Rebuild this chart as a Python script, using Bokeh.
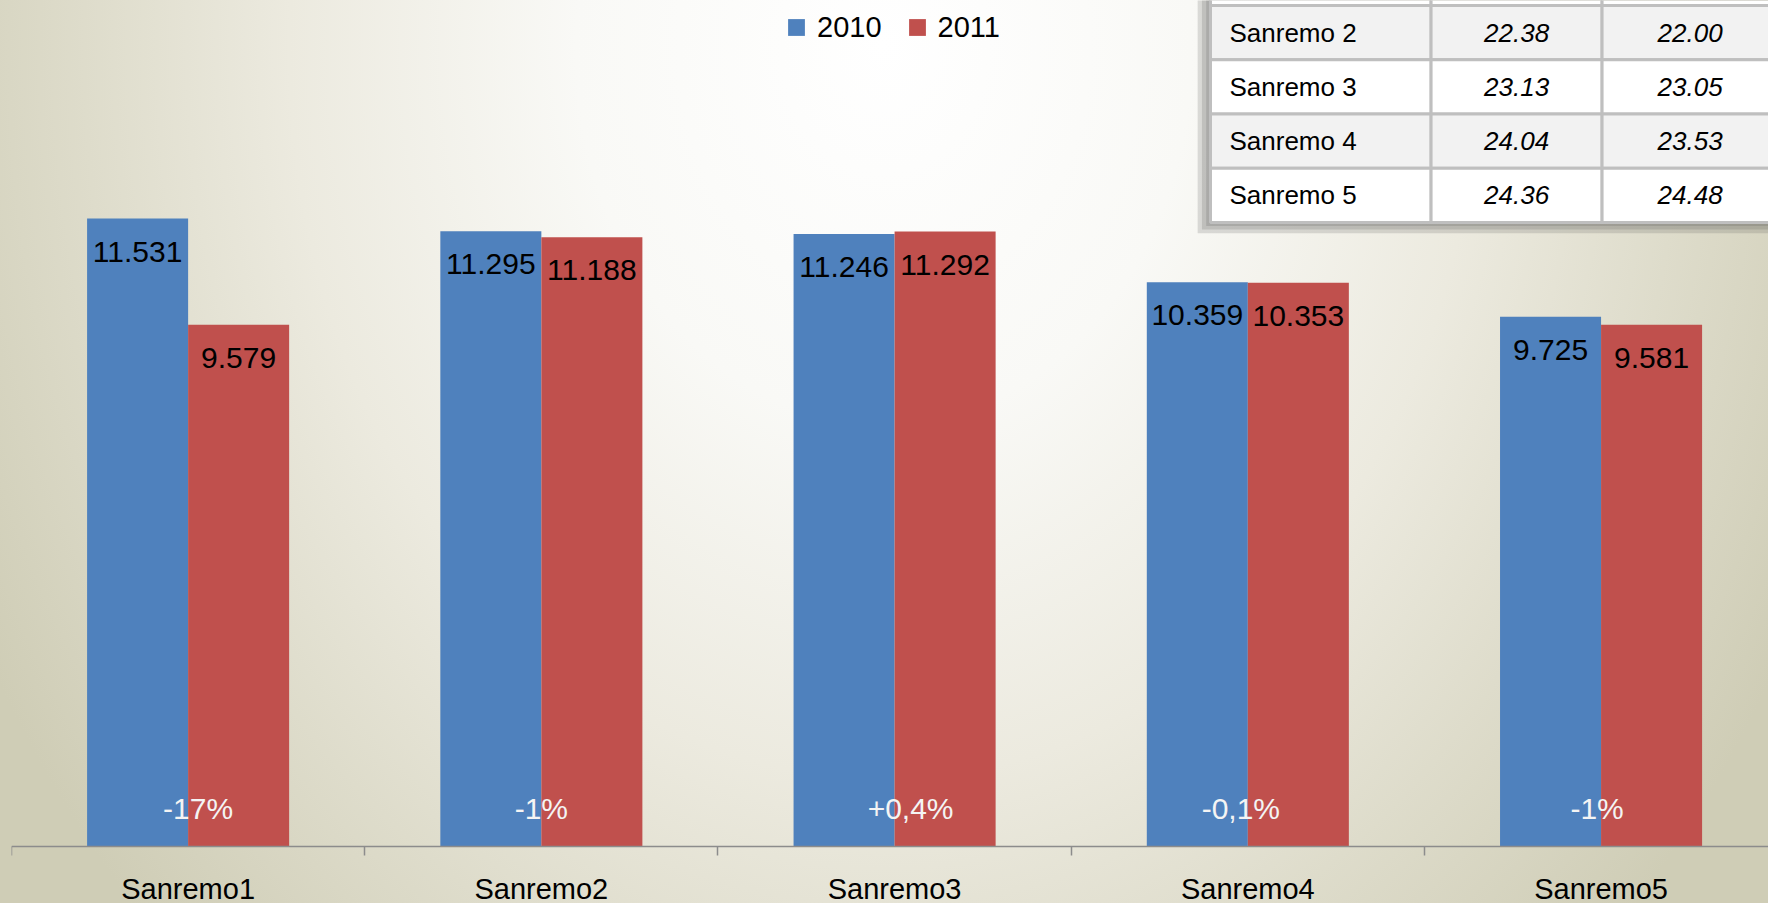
from bokeh.plotting import figure
from bokeh.models import (Range1d, LinearAxis, FixedTicker, Legend, LegendItem,
                          ColumnDataSource)
from bokeh.core.properties import value
from bokeh.transform import dodge
from bokeh.embed import file_html
from bokeh.resources import INLINE

# ---------------- data ----------------
categories = ["Sanremo1", "Sanremo2", "Sanremo3", "Sanremo4", "Sanremo5"]
values_2010 = [11.531, 11.295, 11.246, 10.359, 9.725]
values_2011 = [9.579, 11.188, 11.292, 10.353, 9.581]
labels_2010 = ["11.531", "11.295", "11.246", "10.359", "9.725"]
labels_2011 = ["9.579", "11.188", "11.292", "10.353", "9.581"]
changes = ["-17%", "-1%", "+0,4%", "-0,1%", "-1%"]
series_names = ["2010", "2011"]

table_rows = ["Sanremo 2", "Sanremo 3", " Sanremo 4", "Sanremo  5"]
table_2010 = ["22.38", "23.13", "24.04", "24.36"]
table_2011 = ["22.00", "23.05", "23.53", "24.48"]

# ---------------- styles ----------------
BLUE = "#4f81bd"
RED = "#c0504d"
FONT = value("Liberation Sans")
W, H = 1768, 903
change_nudge_px = [10, 0, 16, -7, -4]   # hand-placed text boxes in the original

xc = [i + 0.5 for i in range(len(categories))]
src = ColumnDataSource(dict(x=xc, v10=values_2010, v11=values_2011,
                            l10=labels_2010, l11=labels_2011, ch=changes,
                            zero=[0] * len(categories), nx=change_nudge_px))

p = figure(width=W, height=H, output_backend="svg", toolbar_location=None,
           x_range=Range1d(0, 4.974), y_range=Range1d(-1.0466, 15.534),
           x_axis_location=None, y_axis_location=None,
           min_border_left=11, min_border_right=0, min_border_top=0, min_border_bottom=0,
           background_fill_color=None, border_fill_color=None, outline_line_color=None,
           styles={"background": "radial-gradient(ellipse 58% 140% at 50% 5%, #ffffff 0%, "
                                 "#f9f9f6 30%, #eceadf 58%, #dedccb 78%, #cfcdb6 100%)"})
p.grid.visible = False

# bars
off = 0.143
bw = 0.286
p.vbar(x=dodge("x", -off, range=p.x_range), top="v10", width=bw, source=src,
       fill_color=BLUE, line_color=None)
p.vbar(x=dodge("x", off, range=p.x_range), top="v11", width=bw, source=src,
       fill_color=RED, line_color=None)

# value labels
for col, lab, d in (("v10", "l10", -off), ("v11", "l11", off)):
    p.text(x=dodge("x", d, range=p.x_range), y=col, text=lab, source=src,
           text_align="center", text_baseline="alphabetic", y_offset=33,
           text_font=FONT, text_font_size="30px", text_color="#000000")

# change labels
p.text(x="x", y="zero", text="ch", source=src, text_align="center",
       text_baseline="alphabetic", x_offset="nx", y_offset=-38, text_font=FONT,
       text_font_size="30px", text_color="#f4f4f4")

# category axis
ax = LinearAxis(fixed_location=0,
                ticker=FixedTicker(ticks=xc, minor_ticks=list(range(len(categories) + 1))),
                major_label_overrides={x: c for x, c in zip(xc, categories)})
ax.axis_line_color = "#8c8c8c"
ax.axis_line_width = 1.5
ax.major_tick_out = 0
ax.major_tick_in = 0
ax.major_tick_line_color = None
ax.minor_tick_out = 9
ax.minor_tick_in = 0
ax.minor_tick_line_color = "#8c8c8c"
ax.minor_tick_line_width = 1.5
ax.major_label_standoff = 17
ax.major_label_text_font = "Liberation Sans"
ax.major_label_text_font_size = "29px"
ax.major_label_text_color = "#000000"
p.add_layout(ax, "below")

# legend (proxy markers, not drawn in the plot)
nan = float("nan")
r1 = p.scatter(x=[nan], y=[nan], marker="square", size=17,
               fill_color=BLUE, line_color=None)
r2 = p.scatter(x=[nan], y=[nan], marker="square", size=17,
               fill_color=RED, line_color=None)
legend = Legend(items=[LegendItem(label=series_names[0], renderers=[r1]),
                       LegendItem(label=series_names[1], renderers=[r2])],
                location=(764, 855), orientation="horizontal",
                glyph_width=42, glyph_height=42, label_standoff=-4, spacing=14,
                padding=0, margin=0, border_line_color=None,
                background_fill_alpha=0, label_text_font="Liberation Sans",
                label_text_font_size="29px", label_text_color="#000000")
p.add_layout(legend)

# ---------------- inset table (own scales) ----------------
p.extra_x_ranges = {"tx": Range1d(-7.0117, 3.2632)}
p.extra_y_ranges = {"ty": Range1d(16.553, -0.0922)}
col_edges = [0, 1.29, 2.29, 3.32]
nrows = len(table_rows)

# shadow layers
for dx, dy in ((0.075, 0.2), (0.05, 0.13), (0.025, 0.065)):
    p.quad(left=[col_edges[0] - dx], right=[col_edges[-1]], top=[-2],
           bottom=[nrows + dy], x_range_name="tx", y_range_name="ty",
           fill_color="#505050", fill_alpha=0.18, line_color=None)

# cells (row -1 is the row above, cut off by the top edge)
cells = dict(left=[], right=[], top=[], bottom=[], fill=[])
for i in range(-1, nrows):
    for j in range(3):
        cells["left"].append(col_edges[j])
        cells["right"].append(col_edges[j + 1])
        cells["top"].append(i)
        cells["bottom"].append(i + 1)
        cells["fill"].append("#f2f2f2" if i % 2 == 0 else "#ffffff")
p.quad(left="left", right="right", top="top", bottom="bottom", fill_color="fill",
       source=ColumnDataSource(cells), x_range_name="tx", y_range_name="ty",
       line_color="#bfbfbf", line_width=3)

ry = [i + 0.5 for i in range(nrows)]
p.text(x=[0.111] * nrows, y=ry, text=table_rows, x_range_name="tx", y_range_name="ty",
       text_align="left", text_baseline="middle", text_font=FONT,
       text_font_size="26px", text_color="#000000")
for vals, j in ((table_2010, 1), (table_2011, 2)):
    cx = (col_edges[j] + col_edges[j + 1]) / 2
    p.text(x=[cx] * nrows, y=ry, text=vals, x_range_name="tx", y_range_name="ty",
           text_align="center", text_baseline="middle", text_font=FONT,
           text_font_style="italic", text_font_size="26px", text_color="#000000")

open("out.html", "w").write(file_html(p, INLINE))
